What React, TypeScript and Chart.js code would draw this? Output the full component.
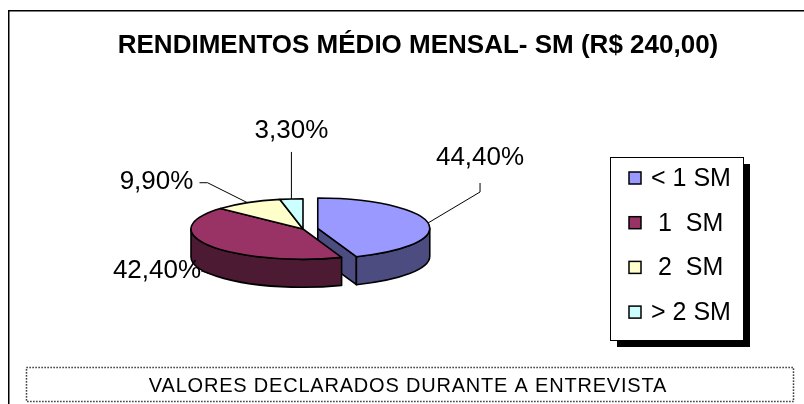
import React, { useEffect, useRef } from "react";
import { Chart, registerables } from "chart.js";

Chart.register(...registerables);

// ---- data ----
const TITLE = "RENDIMENTOS MÉDIO MENSAL- SM (R$ 240,00)";
const FOOTER = "VALORES DECLARADOS DURANTE A ENTREVISTA";
const CATEGORIES = ["< 1 SM", " 1  SM", " 2  SM", "> 2 SM"];
const VALUES = [44.4, 42.4, 9.9, 3.3];

// ---- styles ----
const TOP_COLORS = ["#9999FF", "#993366", "#FFFFCC", "#CCFFFF"];
const SIDE_COLORS = ["#4C4C80", "#4D1A33", "#808066", "#668080"];
const EXPLODE = [15, 0, 0, 0];
const SQUASH = 0.27;
const DEPTH = 28;
const FONT = "'Liberation Sans', Arial, sans-serif";
// label centre and leader polyline, relative to the leader's target on the slice
const LABEL_OFFSETS = [
  [52, -65],
  [-53, -3],
  [-91, -21],
  [0, -68],
];
const LEADERS = [
  [[52, -40], [52, -31]],
  [[-9, -3]],
  [[-48, -20], [-40, -20]],
  [[0, -47]],
];

const fmt = (v: number) => v.toFixed(2).replace(".", ",") + "%";

const pie3dPlugin = {
  id: "pie3d",
  beforeDatasetsDraw(chart: any) {
    const ctx: CanvasRenderingContext2D = chart.ctx;
    const meta = chart.getDatasetMeta(0);
    const geo = meta.data.map((el: any, i: number) => {
      const p = el.getProps(["x", "y", "startAngle", "endAngle", "outerRadius"], true);
      const mid = (p.startAngle + p.endAngle) / 2;
      const off = EXPLODE[i] || 0;
      return {
        i,
        cx: p.x + Math.cos(mid) * off,
        cy: p.y + Math.sin(mid) * off * SQUASH,
        r: p.outerRadius,
        a1: p.startAngle,
        a2: p.endAngle,
        mid,
        exploded: off > 0,
      };
    });

    ctx.save();
    ctx.lineWidth = 1.6;
    ctx.lineJoin = "round";
    ctx.strokeStyle = "#000";

    const drawWalls = (g: any) => {
      const ry = g.r * SQUASH;
      if (g.exploded) {
        const walls: number[] = [];
        if (Math.cos(g.a2) > 1e-6) walls.push(g.a2);
        if (Math.cos(g.a1) < -1e-6) walls.push(g.a1);
        for (const a of walls) {
          const px = g.cx + g.r * Math.cos(a);
          const py = g.cy + ry * Math.sin(a);
          ctx.beginPath();
          ctx.moveTo(g.cx, g.cy);
          ctx.lineTo(px, py);
          ctx.lineTo(px, py + DEPTH);
          ctx.lineTo(g.cx, g.cy + DEPTH);
          ctx.closePath();
          ctx.fillStyle = SIDE_COLORS[g.i];
          ctx.fill();
          ctx.stroke();
        }
      }
      for (const k of [-2, 0, 2]) {
        const lo = Math.max(g.a1, k * Math.PI);
        const hi = Math.min(g.a2, k * Math.PI + Math.PI);
        if (hi <= lo) continue;
        ctx.beginPath();
        ctx.ellipse(g.cx, g.cy, g.r, ry, 0, lo, hi, false);
        ctx.ellipse(g.cx, g.cy + DEPTH, g.r, ry, 0, hi, lo, true);
        ctx.closePath();
        ctx.fillStyle = SIDE_COLORS[g.i];
        ctx.fill();
        ctx.stroke();
      }
    };

    geo.filter((g: any) => g.exploded).forEach(drawWalls);
    geo.filter((g: any) => !g.exploded).forEach(drawWalls);

    for (const g of geo) {
      ctx.beginPath();
      ctx.moveTo(g.cx, g.cy);
      ctx.ellipse(g.cx, g.cy, g.r, g.r * SQUASH, 0, g.a1, g.a2, false);
      ctx.closePath();
      ctx.fillStyle = TOP_COLORS[g.i];
      ctx.fill();
      ctx.stroke();
    }

    // data labels with leader lines
    ctx.lineWidth = 1;
    ctx.font = "26px " + FONT;
    ctx.fillStyle = "#000";
    ctx.textAlign = "center";
    ctx.textBaseline = "middle";
    for (const g of geo) {
      const s = Math.sin(g.mid);
      const tx = g.cx + g.r * Math.cos(g.mid);
      const ty = g.cy + g.r * SQUASH * s + (s > 0 ? DEPTH : 0);
      const lead = LEADERS[g.i];
      ctx.beginPath();
      ctx.moveTo(tx + lead[0][0], ty + lead[0][1]);
      for (let k = 1; k < lead.length; k++) ctx.lineTo(tx + lead[k][0], ty + lead[k][1]);
      ctx.lineTo(tx, ty);
      ctx.stroke();
      const [dx, dy] = LABEL_OFFSETS[g.i];
      ctx.fillText(fmt(VALUES[g.i]), tx + dx, ty + dy);
    }
    ctx.restore();
    return false;
  },
  afterDraw(chart: any) {
    const ctx: CanvasRenderingContext2D = chart.ctx;
    ctx.save();
    // outer chart frame
    ctx.strokeStyle = "#000";
    ctx.lineWidth = 1.5;
    ctx.beginPath();
    ctx.moveTo(8.75, chart.height);
    ctx.lineTo(8.75, 10.75);
    ctx.lineTo(chart.width, 10.75);
    ctx.stroke();

    // title
    ctx.fillStyle = "#000";
    ctx.font = "bold 26px " + FONT;
    ctx.textAlign = "center";
    ctx.textBaseline = "middle";
    ctx.fillText(TITLE, 418, 46);

    // legend
    const bx = 610, by = 157, bw = 133, bh = 183, sh = 7;
    ctx.fillStyle = "#000";
    ctx.fillRect(bx + sh, by + sh, bw, bh);
    ctx.fillStyle = "#fff";
    ctx.fillRect(bx, by, bw, bh);
    ctx.lineWidth = 1;
    ctx.strokeRect(bx + 0.5, by + 0.5, bw, bh);
    const rowH = 44.7;
    ctx.font = "25px " + FONT;
    ctx.textAlign = "left";
    CATEGORIES.forEach((lab, i) => {
      const cy = 178 + i * rowH;
      ctx.fillStyle = TOP_COLORS[i];
      ctx.fillRect(bx + 19, cy - 6, 12, 12);
      ctx.strokeStyle = "#000";
      ctx.lineWidth = 1.5;
      ctx.strokeRect(bx + 19, cy - 6, 12, 12);
      ctx.fillStyle = "#000";
      ctx.fillText(lab, bx + 41, cy + 1);
    });

    // footer dotted box
    ctx.setLineDash([1.2, 1.8]);
    ctx.lineWidth = 1.5;
    ctx.strokeRect(26.5, 367.5, 767, 34);
    ctx.setLineDash([]);
    ctx.font = "20px " + FONT;
    (ctx as any).letterSpacing = "0.8px";
    ctx.textAlign = "center";
    ctx.fillStyle = "#000";
    ctx.fillText(FOOTER, 408, 386);
    ctx.restore();
  },
};

export default function App() {
  const ref = useRef<HTMLCanvasElement>(null);
  useEffect(() => {
    if (!ref.current) return;
    const chart = new Chart(ref.current, {
      type: "pie",
      data: {
        labels: CATEGORIES,
        datasets: [
          {
            data: VALUES,
            backgroundColor: TOP_COLORS,
            borderWidth: 0,
            offset: 0,
            hoverOffset: 0,
          },
        ],
      },
      options: {
        responsive: false,
        animation: false,
        events: [],
        layout: { padding: { left: 191, right: 389, top: 117, bottom: 63 } },
        plugins: {
          legend: { display: false },
          title: { display: false },
          tooltip: { enabled: false },
        },
      },
      plugins: [pie3dPlugin],
    });
    return () => chart.destroy();
  }, []);
  return (
    <div style={{ position: "absolute", left: 0, top: 0, width: 804, height: 404, background: "#fff" }}>
      <canvas ref={ref} width={804} height={404} style={{ display: "block" }} />
    </div>
  );
}
